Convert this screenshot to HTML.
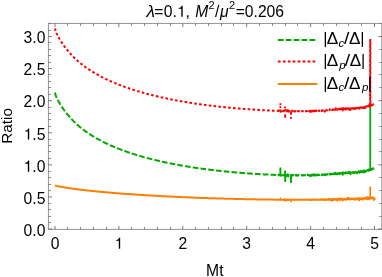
<!DOCTYPE html>
<html lang="en"><head><meta charset="utf-8"><title>plot</title>
<style>
html,body{margin:0;padding:0;background:#fff;}
svg{display:block;}
text{font-family:"Liberation Sans", sans-serif;fill:#000;}
svg{will-change:transform;}
</style></head><body>
<svg width="382" height="277" viewBox="0 0 382 277">
<title>Ratio vs Mt: λ=0.1, M²/μ²=0.206</title>
<rect width="382" height="277" fill="#fff"/>
<g fill="none" stroke-linejoin="round">
<path d="M55.00,92.59 L55.50,94.83 L56.00,96.17 L56.50,97.35 L57.00,98.43 L57.50,99.44 L58.00,100.41 L58.50,101.34 L59.00,102.23 L59.50,103.10 L60.00,103.94 L60.50,104.76 L61.00,105.55 L61.50,106.33 L62.00,107.08 L62.50,107.83 L63.00,108.55 L63.50,109.26 L64.00,109.96 L64.50,110.64 L65.00,111.31 L65.50,111.97 L66.00,112.61 L66.50,113.25 L67.00,113.87 L67.50,114.48 L68.00,115.09 L68.50,115.68 L69.00,116.26 L69.50,116.84 L70.00,117.40 L70.50,117.96 L71.00,118.50 L71.50,119.04 L72.00,119.57 L72.50,120.09 L73.00,120.61 L73.50,121.11 L74.00,121.61 L74.50,122.10 L75.00,122.59 L75.50,123.06 L76.00,123.53 L76.50,124.00 L77.00,124.45 L77.50,124.90 L78.00,125.34 L78.50,125.78 L79.00,126.20 L79.50,126.63 L80.00,127.04 L80.50,127.46 L81.00,127.86 L81.50,128.26 L82.00,128.66 L82.50,129.05 L83.00,129.43 L83.50,129.81 L84.00,130.19 L84.50,130.56 L85.00,130.92 L85.50,131.28 L86.00,131.64 L86.50,131.99 L87.00,132.34 L87.50,132.69 L88.00,133.03 L88.50,133.36 L89.00,133.70 L89.50,134.03 L90.00,134.35 L90.50,134.68 L91.00,135.00 L91.50,135.31 L92.00,135.62 L92.50,135.93 L93.00,136.24 L93.50,136.54 L94.00,136.84 L94.50,137.14 L95.00,137.43 L95.50,137.72 L96.00,138.01 L96.50,138.30 L97.00,138.58 L97.50,138.86 L98.00,139.14 L98.50,139.41 L99.00,139.69 L99.50,139.96 L100.00,140.22 L100.50,140.49 L101.00,140.75 L101.50,141.01 L102.00,141.27 L102.50,141.53 L103.00,141.78 L103.50,142.03 L104.00,142.28 L104.50,142.53 L105.00,142.77 L105.50,143.02 L106.00,143.26 L106.50,143.50 L107.00,143.73 L107.50,143.97 L108.00,144.20 L108.50,144.43 L109.00,144.66 L109.50,144.89 L110.00,145.11 L110.50,145.34 L111.00,145.56 L111.50,145.78 L112.00,146.00 L112.50,146.21 L113.00,146.43 L113.50,146.64 L114.00,146.85 L114.50,147.06 L115.00,147.27 L115.50,147.48 L116.00,147.69 L116.50,147.89 L117.00,148.09 L117.50,148.29 L118.00,148.49 L118.50,148.69 L119.00,148.89 L119.50,149.08 L120.00,149.27 L120.50,149.47 L121.00,149.66 L121.50,149.85 L122.00,150.03 L122.50,150.22 L123.00,150.41 L123.50,150.59 L124.00,150.77 L124.50,150.95 L125.00,151.13 L125.50,151.31 L126.00,151.49 L126.50,151.67 L127.00,151.84 L127.50,152.02 L128.00,152.19 L128.50,152.36 L129.00,152.53 L129.50,152.70 L130.00,152.87 L130.50,153.04 L131.00,153.20 L131.50,153.37 L132.00,153.53 L132.50,153.69 L133.00,153.85 L133.50,154.01 L134.00,154.17 L134.50,154.33 L135.00,154.49 L135.50,154.64 L136.00,154.80 L136.50,154.95 L137.00,155.11 L137.50,155.26 L138.00,155.41 L138.50,155.56 L139.00,155.71 L139.50,155.86 L140.00,156.00 L140.50,156.15 L141.00,156.30 L141.50,156.44 L142.00,156.58 L142.50,156.73 L143.00,156.87 L143.50,157.01 L144.00,157.15 L144.50,157.29 L145.00,157.42 L145.50,157.56 L146.00,157.70 L146.50,157.83 L147.00,157.97 L147.50,158.10 L148.00,158.23 L148.50,158.37 L149.00,158.50 L149.50,158.63 L150.00,158.76 L150.50,158.89 L151.00,159.01 L151.50,159.14 L152.00,159.27 L152.50,159.39 L153.00,159.52 L153.50,159.64 L154.00,159.77 L154.50,159.89 L155.00,160.01 L155.50,160.13 L156.00,160.25 L156.50,160.37 L157.00,160.49 L157.50,160.61 L158.00,160.73 L158.50,160.84 L159.00,160.96 L159.50,161.07 L160.00,161.19 L160.50,161.30 L161.00,161.41 L161.50,161.53 L162.00,161.64 L162.50,161.75 L163.00,161.86 L163.50,161.97 L164.00,162.08 L164.50,162.19 L165.00,162.30 L165.50,162.40 L166.00,162.51 L166.50,162.61 L167.00,162.72 L167.50,162.82 L168.00,162.93 L168.50,163.03 L169.00,163.13 L169.50,163.24 L170.00,163.34 L170.50,163.44 L171.00,163.54 L171.50,163.64 L172.00,163.74 L172.50,163.84 L173.00,163.93 L173.50,164.03 L174.00,164.13 L174.50,164.22 L175.00,164.32 L175.50,164.41 L176.00,164.51 L176.50,164.60 L177.00,164.69 L177.50,164.79 L178.00,164.88 L178.50,164.97 L179.00,165.06 L179.50,165.15 L180.00,165.24 L180.50,165.33 L181.00,165.42 L181.50,165.51 L182.00,165.60 L182.50,165.68 L183.00,165.77 L183.50,165.86 L184.00,165.94 L184.50,166.03 L185.00,166.11 L185.50,166.20 L186.00,166.28 L186.50,166.36 L187.00,166.44 L187.50,166.53 L188.00,166.61 L188.50,166.69 L189.00,166.77 L189.50,166.85 L190.00,166.93 L190.50,167.01 L191.00,167.09 L191.50,167.17 L192.00,167.24 L192.50,167.32 L193.00,167.40 L193.50,167.47 L194.00,167.55 L194.50,167.62 L195.00,167.70 L195.50,167.77 L196.00,167.85 L196.50,167.92 L197.00,167.99 L197.50,168.07 L198.00,168.14 L198.50,168.21 L199.00,168.28 L199.50,168.35 L200.00,168.42 L200.50,168.49 L201.00,168.56 L201.50,168.63 L202.00,168.70 L202.50,168.77 L203.00,168.83 L203.50,168.90 L204.00,168.97 L204.50,169.04 L205.00,169.10 L205.50,169.17 L206.00,169.23 L206.50,169.30 L207.00,169.36 L207.50,169.42 L208.00,169.49 L208.50,169.55 L209.00,169.61 L209.50,169.68 L210.00,169.74 L210.50,169.80 L211.00,169.86 L211.50,169.92 L212.00,169.98 L212.50,170.04 L213.00,170.10 L213.50,170.16 L214.00,170.22 L214.50,170.28 L215.00,170.34 L215.50,170.39 L216.00,170.45 L216.50,170.51 L217.00,170.56 L217.50,170.62 L218.00,170.68 L218.50,170.73 L219.00,170.79 L219.50,170.84 L220.00,170.90 L220.50,170.95 L221.00,171.00 L221.50,171.06 L222.00,171.11 L222.50,171.16 L223.00,171.21 L223.50,171.27 L224.00,171.32 L224.50,171.37 L225.00,171.42 L225.50,171.47 L226.00,171.52 L226.50,171.57 L227.00,171.62 L227.50,171.67 L228.00,171.72 L228.50,171.76 L229.00,171.81 L229.50,171.86 L230.00,171.91 L230.50,171.95 L231.00,172.00 L231.50,172.05 L232.00,172.09 L232.50,172.14 L233.00,172.18 L233.50,172.23 L234.00,172.27 L234.50,172.32 L235.00,172.36 L235.50,172.40 L236.00,172.45 L236.50,172.49 L237.00,172.53 L237.50,172.58 L238.00,172.62 L238.50,172.66 L239.00,172.70 L239.50,172.74 L240.00,172.78 L240.50,172.82 L241.00,172.86 L241.50,172.90 L242.00,172.94 L242.50,172.98 L243.00,173.02 L243.50,173.06 L244.00,173.10 L244.50,173.14 L245.00,173.17 L245.50,173.21 L246.00,173.25 L246.50,173.28 L247.00,173.32 L247.50,173.36 L248.00,173.39 L248.50,173.43 L249.00,173.46 L249.50,173.50 L250.00,173.53 L250.50,173.57 L251.00,173.60 L251.50,173.64 L252.00,173.67 L252.50,173.70 L253.00,173.74 L253.50,173.77 L254.00,173.80 L254.50,173.83 L255.00,173.87 L255.50,173.90 L256.00,173.93 L256.50,173.96 L257.00,173.99 L257.50,174.02 L258.00,174.05 L258.50,174.08 L259.00,174.11 L259.50,174.14 L260.00,174.17 L260.50,174.20 L261.00,174.23 L261.50,174.26 L262.00,174.28 L262.50,174.31 L263.00,174.34 L263.50,174.37 L264.00,174.39 L264.50,174.42 L265.00,174.45 L265.50,174.47 L266.00,174.50 L266.50,174.52 L267.00,174.55 L267.50,174.57 L268.00,174.60 L268.50,174.62 L269.00,174.64 L269.50,174.67 L270.00,174.69 L270.50,174.71 L271.00,174.74 L271.50,174.76 L272.00,174.78 L272.50,174.80 L273.00,174.82 L273.50,174.84 L274.00,174.86 L274.50,174.88 L275.00,174.90 L275.50,174.92 L276.00,174.94 L276.15,174.94 L276.30,174.95 L276.45,174.96 L276.60,174.96 L276.75,174.97 L276.90,174.97 L277.05,174.98 L277.20,174.98 L277.35,174.99 L277.50,174.99 L277.65,175.00 L277.80,175.00 L277.95,175.01 L278.10,175.00 L278.25,175.23 L278.40,175.08 L278.55,174.86 L278.70,174.62 L278.85,175.30 L279.00,175.18 L279.15,175.11 L279.30,175.09 L279.45,175.26 L279.60,175.30 L279.75,175.08 L279.90,175.36 L280.05,175.24 L280.20,175.57 L280.35,175.26 L280.50,175.05 L280.65,175.17 L280.80,175.12 L280.95,175.85 L281.10,175.23 L281.25,175.03 L281.40,175.06 L281.55,175.20 L281.70,175.07 L281.85,175.10 L282.00,175.11 L282.15,174.88 L282.30,175.21 L282.45,175.08 L282.60,174.86 L282.75,175.20 L282.90,175.35 L283.05,175.05 L283.20,175.00 L283.35,175.17 L283.50,175.17 L283.65,175.19 L283.80,175.33 L283.95,175.00 L284.10,175.49 L284.25,175.20 L284.40,175.45 L284.55,175.48 L284.70,175.09 L284.85,175.26 L285.00,175.30 L285.15,175.14 L285.30,175.45 L285.45,175.55 L285.60,175.30 L285.75,174.16 L285.90,174.78 L286.05,175.16 L286.20,176.14 L286.35,175.14 L286.50,175.46 L286.65,175.17 L286.80,175.44 L286.95,174.94 L287.10,175.54 L287.25,175.06 L287.40,175.14 L287.55,176.59 L287.70,175.31 L287.85,174.26 L288.00,175.09 L288.15,176.42 L288.30,175.35 L288.45,175.95 L288.60,175.40 L288.75,175.58 L288.90,175.13 L289.05,175.28 L289.20,175.38 L289.35,175.32 L289.50,175.25 L289.65,175.09 L289.80,175.37 L289.95,175.19 L290.10,175.39 L290.25,175.42 L290.40,175.28 L290.55,175.18 L290.70,175.34 L290.85,175.29 L291.00,175.22 L291.15,175.27 L291.30,175.24 L291.45,175.25 L291.60,175.26 L291.75,175.28 L291.90,175.26 L292.05,175.33 L292.20,174.82 L292.35,175.48 L292.50,175.40 L292.65,174.90 L292.80,175.31 L292.95,175.53 L293.10,175.32 L293.25,175.08 L293.40,175.37 L293.55,175.30 L293.70,175.35 L293.85,175.38 L294.00,175.37 L294.15,175.29 L294.30,175.60 L294.45,175.44 L294.60,175.31 L294.75,175.41 L294.90,175.71 L295.05,175.32 L295.20,175.35 L295.35,175.36 L295.50,175.34 L295.65,175.40 L295.80,175.21 L295.95,175.40 L296.10,175.38 L296.25,175.68 L296.40,175.46 L296.55,175.03 L296.70,175.35 L296.85,175.32 L297.00,175.38 L297.15,175.26 L297.30,175.35 L297.45,175.42 L297.60,175.32 L297.75,175.45 L297.90,175.32 L298.05,175.35 L298.20,175.34 L298.35,175.35 L298.50,175.40 L298.65,175.43 L298.80,175.30 L298.95,175.36 L299.10,175.34 L299.25,175.38 L299.40,175.45 L299.55,175.41 L299.70,175.05 L299.85,175.39 L300.00,175.37 L300.15,175.42 L300.30,175.37 L300.45,175.36 L300.60,175.36 L300.75,175.35 L300.90,175.37 L301.05,175.37 L301.20,175.34 L301.35,175.32 L301.50,175.35 L301.65,175.25 L301.80,175.33 L301.95,175.33 L302.10,175.37 L302.25,175.12 L302.40,175.38 L302.55,175.41 L302.70,175.38 L302.85,175.30 L303.00,175.38 L303.15,175.26 L303.30,175.32 L303.45,175.40 L303.60,175.33 L303.75,175.23 L303.90,175.36 L304.05,175.38 L304.20,175.21 L304.35,175.24 L304.50,175.26 L304.65,175.32 L304.80,175.29 L304.95,175.24 L305.10,175.05 L305.25,175.19 L305.40,175.30 L305.55,175.23 L305.70,175.31 L305.85,175.26 L306.00,175.33 L306.15,175.32 L306.30,175.26 L306.45,175.32 L306.60,175.09 L306.75,175.30 L306.90,175.26 L307.05,175.27 L307.20,175.28 L307.35,175.25 L307.50,175.20 L307.65,174.58 L307.80,175.31 L307.95,175.19 L308.10,175.25 L308.25,175.28 L308.40,175.22 L308.55,175.28 L308.70,175.23 L308.85,175.16 L309.00,175.32 L309.15,175.21 L309.30,175.19 L309.45,175.26 L309.60,175.17 L309.75,175.18 L309.90,175.24 L310.05,175.04 L310.20,176.13 L310.35,174.74 L310.50,175.24 L310.65,176.17 L310.80,175.39 L310.95,175.25 L311.10,175.02 L311.25,175.47 L311.40,175.21 L311.55,175.62 L311.70,174.85 L311.85,175.38 L312.00,174.94 L312.15,175.50 L312.30,174.89 L312.45,175.17 L312.60,175.06 L312.75,175.27 L312.90,175.52 L313.05,175.43 L313.20,174.86 L313.35,174.98 L313.50,175.28 L313.65,174.37 L313.80,175.25 L313.95,175.24 L314.10,175.33 L314.25,174.85 L314.40,174.69 L314.55,175.27 L314.70,174.87 L314.85,174.87 L315.00,174.63 L315.15,175.53 L315.30,174.98 L315.45,174.91 L315.60,175.33 L315.75,174.73 L315.90,174.99 L316.05,174.88 L316.20,175.11 L316.35,174.77 L316.50,175.07 L316.65,174.73 L316.80,174.97 L316.95,175.00 L317.10,175.36 L317.25,174.86 L317.40,174.68 L317.55,174.89 L317.70,174.98 L317.85,174.95 L318.00,174.83 L318.15,174.88 L318.30,174.97 L318.45,174.91 L318.60,174.89 L318.75,174.91 L318.90,174.94 L319.05,174.81 L319.20,174.74 L319.35,174.88 L319.50,174.95 L319.65,175.03 L319.80,174.85 L319.95,174.79 L320.10,174.85 L320.25,174.76 L320.40,174.81 L320.55,174.85 L320.70,174.97 L320.85,174.87 L321.00,174.88 L321.15,174.79 L321.30,174.75 L321.45,174.66 L321.60,174.76 L321.75,175.26 L321.90,174.51 L322.05,174.70 L322.20,174.76 L322.35,174.75 L322.50,174.89 L322.65,174.62 L322.80,174.65 L322.95,174.46 L323.10,174.52 L323.25,174.55 L323.40,174.48 L323.55,174.70 L323.70,174.72 L323.85,174.65 L324.00,174.82 L324.15,174.65 L324.30,174.67 L324.45,174.19 L324.60,174.60 L324.75,175.92 L324.90,174.58 L325.05,174.35 L325.20,174.85 L325.35,175.10 L325.50,174.54 L325.65,174.74 L325.80,174.61 L325.95,174.51 L326.10,174.72 L326.25,174.32 L326.40,174.43 L326.55,174.68 L326.70,174.47 L326.85,174.29 L327.00,174.48 L327.15,174.37 L327.30,174.33 L327.45,174.46 L327.60,174.26 L327.75,174.34 L327.90,174.55 L328.05,174.30 L328.20,174.23 L328.35,174.23 L328.50,174.46 L328.65,174.27 L328.80,174.11 L328.95,174.29 L329.10,174.12 L329.25,174.09 L329.40,174.30 L329.55,174.17 L329.70,174.32 L329.85,173.50 L330.00,174.27 L330.15,174.33 L330.30,174.23 L330.45,174.23 L330.60,174.14 L330.75,174.12 L330.90,174.38 L331.05,174.29 L331.20,174.10 L331.35,174.07 L331.50,174.13 L331.65,173.69 L331.80,173.93 L331.95,174.12 L332.10,173.98 L332.25,173.86 L332.40,174.02 L332.55,174.37 L332.70,174.04 L332.85,174.04 L333.00,173.66 L333.15,174.34 L333.30,173.74 L333.45,174.03 L333.60,173.83 L333.75,174.20 L333.90,173.93 L334.05,173.76 L334.20,173.93 L334.35,173.75 L334.50,173.93 L334.65,173.98 L334.80,173.93 L334.95,173.97 L335.10,173.96 L335.25,172.79 L335.40,174.06 L335.55,174.14 L335.70,173.83 L335.85,172.48 L336.00,173.62 L336.15,173.55 L336.30,173.56 L336.45,174.34 L336.60,173.74 L336.75,174.23 L336.90,173.84 L337.05,173.61 L337.20,173.99 L337.35,174.07 L337.50,173.92 L337.65,173.63 L337.80,173.45 L337.95,173.17 L338.10,173.37 L338.25,173.91 L338.40,174.04 L338.55,173.46 L338.70,173.39 L338.85,173.88 L339.00,173.66 L339.15,173.90 L339.30,173.49 L339.45,173.56 L339.60,173.06 L339.75,173.31 L339.90,173.48 L340.05,173.34 L340.20,173.09 L340.35,173.65 L340.50,173.64 L340.65,172.97 L340.80,173.07 L340.95,173.23 L341.10,173.19 L341.25,173.60 L341.40,172.55 L341.55,173.48 L341.70,173.22 L341.85,172.95 L342.00,172.94 L342.15,173.04 L342.30,173.09 L342.45,173.40 L342.60,173.10 L342.75,174.66 L342.90,172.34 L343.05,172.70 L343.20,173.12 L343.35,172.71 L343.50,173.19 L343.65,172.40 L343.80,173.26 L343.95,173.03 L344.10,173.20 L344.25,173.22 L344.40,173.10 L344.55,173.12 L344.70,173.45 L344.85,172.67 L345.00,173.05 L345.15,173.40 L345.30,172.84 L345.45,173.05 L345.60,172.99 L345.75,172.30 L345.90,173.18 L346.05,173.59 L346.20,173.00 L346.35,172.92 L346.50,172.75 L346.65,173.10 L346.80,173.09 L346.95,172.84 L347.10,172.98 L347.25,172.95 L347.40,172.84 L347.55,173.08 L347.70,172.54 L347.85,173.04 L348.00,172.83 L348.15,172.90 L348.30,172.96 L348.45,172.70 L348.60,172.59 L348.75,172.48 L348.90,172.65 L349.05,172.85 L349.20,171.88 L349.35,173.97 L349.50,172.72 L349.65,172.61 L349.80,172.59 L349.95,172.94 L350.10,173.00 L350.25,172.33 L350.40,172.77 L350.55,174.09 L350.70,172.90 L350.85,172.63 L351.00,172.37 L351.15,172.54 L351.30,172.35 L351.45,172.54 L351.60,172.48 L351.75,172.36 L351.90,172.64 L352.05,172.48 L352.20,172.83 L352.35,173.05 L352.50,172.37 L352.65,172.68 L352.80,172.35 L352.95,172.65 L353.10,172.50 L353.25,172.90 L353.40,172.22 L353.55,172.43 L353.70,172.42 L353.85,172.07 L354.00,173.04 L354.15,172.64 L354.30,172.98 L354.45,172.38 L354.60,172.28 L354.75,172.22 L354.90,172.29 L355.05,173.14 L355.20,171.95 L355.35,172.25 L355.50,172.37 L355.65,172.54 L355.80,172.20 L355.95,172.39 L356.10,172.37 L356.25,172.21 L356.40,172.20 L356.55,172.41 L356.70,171.95 L356.85,172.43 L357.00,173.26 L357.15,172.12 L357.30,172.14 L357.45,172.15 L357.60,172.53 L357.75,172.13 L357.90,172.25 L358.05,172.48 L358.20,171.93 L358.35,172.31 L358.50,172.12 L358.65,171.32 L358.80,172.03 L358.95,171.41 L359.10,172.32 L359.25,172.72 L359.40,171.88 L359.55,171.66 L359.70,172.18 L359.85,172.26 L360.00,171.66 L360.15,172.11 L360.30,171.93 L360.45,170.98 L360.60,172.00 L360.75,171.93 L360.90,171.32 L361.05,171.84 L361.20,171.71 L361.35,171.97 L361.50,171.85 L361.65,171.97 L361.80,172.05 L361.95,171.28 L362.10,171.55 L362.25,171.43 L362.40,171.84 L362.55,171.60 L362.70,171.62 L362.85,171.88 L363.00,171.40 L363.15,172.23 L363.30,171.52 L363.45,171.80 L363.60,170.41 L363.75,171.23 L363.90,171.29 L364.05,172.28 L364.20,171.45 L364.35,171.01 L364.50,171.34 L364.65,171.18 L364.80,171.18 L364.95,172.33 L365.10,170.80 L365.25,171.59 L365.40,171.05 L365.55,171.16 L365.70,171.42 L365.85,170.93 L366.00,170.85 L366.15,170.88 L366.30,171.10 L366.45,170.40 L366.60,170.58 L366.75,170.75 L366.90,170.36 L367.05,170.53 L367.20,170.51 L367.35,170.33 L367.50,170.78 L367.65,171.13 L367.80,170.00 L367.95,170.38 L368.10,170.11 L368.25,170.15 L368.40,170.19 L368.55,170.29 L368.70,170.37 L368.85,170.34 L369.00,170.68 L369.15,169.20 L369.30,170.24 L369.45,170.16 L369.60,169.99 L369.75,170.11 L369.90,169.99 L370.05,170.42 L370.20,169.75 L370.35,170.10 L370.50,169.69 L370.65,169.60 L370.80,170.09 L370.95,169.00 L371.10,169.49 L371.25,169.24 L371.40,169.85 L371.55,169.20 L371.70,168.79 L371.85,169.33 L372.00,169.12 L372.15,168.81 L372.30,169.14 L372.45,169.22 L372.60,168.61 L372.75,168.81 L372.90,168.86 L373.05,168.18 L373.20,168.64 L373.35,168.66 L373.50,168.49 L373.65,168.59 L373.80,168.37 L373.95,168.32" stroke="#00a800" stroke-width="2.0" stroke-dasharray="5.64 2.18"/>
<path d="M280.40,175.09 V167.49" stroke="#00a800" stroke-width="1.9"/><path d="M285.10,175.21 V170.61" stroke="#00a800" stroke-width="1.9"/><path d="M285.20,175.21 V181.91" stroke="#00a800" stroke-width="1.9"/><path d="M291.00,175.31 V182.91" stroke="#00a800" stroke-width="1.9"/><path d="M370.25,169.83 V104.23" stroke="#00a800" stroke-width="1.8"/>
<path d="M55.00,28.42 L55.50,30.66 L56.00,32.00 L56.50,33.18 L57.00,34.26 L57.50,35.27 L58.00,36.24 L58.50,37.17 L59.00,38.06 L59.50,38.93 L60.00,39.77 L60.50,40.59 L61.00,41.38 L61.50,42.16 L62.00,42.91 L62.50,43.66 L63.00,44.38 L63.50,45.09 L64.00,45.79 L64.50,46.47 L65.00,47.14 L65.50,47.80 L66.00,48.44 L66.50,49.08 L67.00,49.70 L67.50,50.31 L68.00,50.92 L68.50,51.51 L69.00,52.09 L69.50,52.67 L70.00,53.23 L70.50,53.79 L71.00,54.33 L71.50,54.87 L72.00,55.40 L72.50,55.92 L73.00,56.44 L73.50,56.94 L74.00,57.44 L74.50,57.93 L75.00,58.42 L75.50,58.89 L76.00,59.36 L76.50,59.83 L77.00,60.28 L77.50,60.73 L78.00,61.17 L78.50,61.61 L79.00,62.03 L79.50,62.46 L80.00,62.87 L80.50,63.29 L81.00,63.69 L81.50,64.09 L82.00,64.49 L82.50,64.88 L83.00,65.26 L83.50,65.64 L84.00,66.02 L84.50,66.39 L85.00,66.75 L85.50,67.11 L86.00,67.47 L86.50,67.82 L87.00,68.17 L87.50,68.52 L88.00,68.86 L88.50,69.19 L89.00,69.53 L89.50,69.86 L90.00,70.18 L90.50,70.51 L91.00,70.83 L91.50,71.14 L92.00,71.45 L92.50,71.76 L93.00,72.07 L93.50,72.37 L94.00,72.67 L94.50,72.97 L95.00,73.26 L95.50,73.55 L96.00,73.84 L96.50,74.13 L97.00,74.41 L97.50,74.69 L98.00,74.97 L98.50,75.24 L99.00,75.52 L99.50,75.79 L100.00,76.05 L100.50,76.32 L101.00,76.58 L101.50,76.84 L102.00,77.10 L102.50,77.36 L103.00,77.61 L103.50,77.86 L104.00,78.11 L104.50,78.36 L105.00,78.60 L105.50,78.85 L106.00,79.09 L106.50,79.33 L107.00,79.56 L107.50,79.80 L108.00,80.03 L108.50,80.26 L109.00,80.49 L109.50,80.72 L110.00,80.94 L110.50,81.17 L111.00,81.39 L111.50,81.61 L112.00,81.83 L112.50,82.04 L113.00,82.26 L113.50,82.47 L114.00,82.68 L114.50,82.89 L115.00,83.10 L115.50,83.31 L116.00,83.52 L116.50,83.72 L117.00,83.92 L117.50,84.12 L118.00,84.32 L118.50,84.52 L119.00,84.72 L119.50,84.91 L120.00,85.10 L120.50,85.30 L121.00,85.49 L121.50,85.68 L122.00,85.86 L122.50,86.05 L123.00,86.24 L123.50,86.42 L124.00,86.60 L124.50,86.78 L125.00,86.96 L125.50,87.14 L126.00,87.32 L126.50,87.50 L127.00,87.67 L127.50,87.85 L128.00,88.02 L128.50,88.19 L129.00,88.36 L129.50,88.53 L130.00,88.70 L130.50,88.87 L131.00,89.03 L131.50,89.20 L132.00,89.36 L132.50,89.52 L133.00,89.68 L133.50,89.84 L134.00,90.00 L134.50,90.16 L135.00,90.32 L135.50,90.47 L136.00,90.63 L136.50,90.78 L137.00,90.94 L137.50,91.09 L138.00,91.24 L138.50,91.39 L139.00,91.54 L139.50,91.69 L140.00,91.83 L140.50,91.98 L141.00,92.13 L141.50,92.27 L142.00,92.41 L142.50,92.56 L143.00,92.70 L143.50,92.84 L144.00,92.98 L144.50,93.12 L145.00,93.25 L145.50,93.39 L146.00,93.53 L146.50,93.66 L147.00,93.80 L147.50,93.93 L148.00,94.06 L148.50,94.20 L149.00,94.33 L149.50,94.46 L150.00,94.59 L150.50,94.72 L151.00,94.84 L151.50,94.97 L152.00,95.10 L152.50,95.22 L153.00,95.35 L153.50,95.47 L154.00,95.60 L154.50,95.72 L155.00,95.84 L155.50,95.96 L156.00,96.08 L156.50,96.20 L157.00,96.32 L157.50,96.44 L158.00,96.56 L158.50,96.67 L159.00,96.79 L159.50,96.90 L160.00,97.02 L160.50,97.13 L161.00,97.24 L161.50,97.36 L162.00,97.47 L162.50,97.58 L163.00,97.69 L163.50,97.80 L164.00,97.91 L164.50,98.02 L165.00,98.13 L165.50,98.23 L166.00,98.34 L166.50,98.44 L167.00,98.55 L167.50,98.65 L168.00,98.76 L168.50,98.86 L169.00,98.96 L169.50,99.07 L170.00,99.17 L170.50,99.27 L171.00,99.37 L171.50,99.47 L172.00,99.57 L172.50,99.67 L173.00,99.76 L173.50,99.86 L174.00,99.96 L174.50,100.05 L175.00,100.15 L175.50,100.24 L176.00,100.34 L176.50,100.43 L177.00,100.52 L177.50,100.62 L178.00,100.71 L178.50,100.80 L179.00,100.89 L179.50,100.98 L180.00,101.07 L180.50,101.16 L181.00,101.25 L181.50,101.34 L182.00,101.43 L182.50,101.51 L183.00,101.60 L183.50,101.69 L184.00,101.77 L184.50,101.86 L185.00,101.94 L185.50,102.03 L186.00,102.11 L186.50,102.19 L187.00,102.27 L187.50,102.36 L188.00,102.44 L188.50,102.52 L189.00,102.60 L189.50,102.68 L190.00,102.76 L190.50,102.84 L191.00,102.92 L191.50,103.00 L192.00,103.07 L192.50,103.15 L193.00,103.23 L193.50,103.30 L194.00,103.38 L194.50,103.45 L195.00,103.53 L195.50,103.60 L196.00,103.68 L196.50,103.75 L197.00,103.82 L197.50,103.90 L198.00,103.97 L198.50,104.04 L199.00,104.11 L199.50,104.18 L200.00,104.25 L200.50,104.32 L201.00,104.39 L201.50,104.46 L202.00,104.53 L202.50,104.60 L203.00,104.66 L203.50,104.73 L204.00,104.80 L204.50,104.87 L205.00,104.93 L205.50,105.00 L206.00,105.06 L206.50,105.13 L207.00,105.19 L207.50,105.25 L208.00,105.32 L208.50,105.38 L209.00,105.44 L209.50,105.51 L210.00,105.57 L210.50,105.63 L211.00,105.69 L211.50,105.75 L212.00,105.81 L212.50,105.87 L213.00,105.93 L213.50,105.99 L214.00,106.05 L214.50,106.11 L215.00,106.17 L215.50,106.22 L216.00,106.28 L216.50,106.34 L217.00,106.39 L217.50,106.45 L218.00,106.51 L218.50,106.56 L219.00,106.62 L219.50,106.67 L220.00,106.73 L220.50,106.78 L221.00,106.83 L221.50,106.89 L222.00,106.94 L222.50,106.99 L223.00,107.04 L223.50,107.10 L224.00,107.15 L224.50,107.20 L225.00,107.25 L225.50,107.30 L226.00,107.35 L226.50,107.40 L227.00,107.45 L227.50,107.50 L228.00,107.55 L228.50,107.59 L229.00,107.64 L229.50,107.69 L230.00,107.74 L230.50,107.78 L231.00,107.83 L231.50,107.88 L232.00,107.92 L232.50,107.97 L233.00,108.01 L233.50,108.06 L234.00,108.10 L234.50,108.15 L235.00,108.19 L235.50,108.23 L236.00,108.28 L236.50,108.32 L237.00,108.36 L237.50,108.41 L238.00,108.45 L238.50,108.49 L239.00,108.53 L239.50,108.57 L240.00,108.61 L240.50,108.65 L241.00,108.69 L241.50,108.73 L242.00,108.77 L242.50,108.81 L243.00,108.85 L243.50,108.89 L244.00,108.93 L244.50,108.97 L245.00,109.00 L245.50,109.04 L246.00,109.08 L246.50,109.11 L247.00,109.15 L247.50,109.19 L248.00,109.22 L248.50,109.26 L249.00,109.29 L249.50,109.33 L250.00,109.36 L250.50,109.40 L251.00,109.43 L251.50,109.47 L252.00,109.50 L252.50,109.53 L253.00,109.57 L253.50,109.60 L254.00,109.63 L254.50,109.66 L255.00,109.70 L255.50,109.73 L256.00,109.76 L256.50,109.79 L257.00,109.82 L257.50,109.85 L258.00,109.88 L258.50,109.91 L259.00,109.94 L259.50,109.97 L260.00,110.00 L260.50,110.03 L261.00,110.06 L261.50,110.09 L262.00,110.11 L262.50,110.14 L263.00,110.17 L263.50,110.20 L264.00,110.22 L264.50,110.25 L265.00,110.28 L265.50,110.30 L266.00,110.33 L266.50,110.35 L267.00,110.38 L267.50,110.40 L268.00,110.43 L268.50,110.45 L269.00,110.47 L269.50,110.50 L270.00,110.52 L270.50,110.54 L271.00,110.57 L271.50,110.59 L272.00,110.61 L272.50,110.63 L273.00,110.65 L273.50,110.67 L274.00,110.69 L274.50,110.71 L275.00,110.73 L275.50,110.75 L276.00,110.77 L276.15,110.77 L276.30,110.78 L276.45,110.79 L276.60,110.79 L276.75,110.80 L276.90,110.80 L277.05,110.81 L277.20,110.81 L277.35,110.82 L277.50,110.82 L277.65,110.83 L277.80,110.83 L277.95,110.84 L278.10,110.83 L278.25,111.06 L278.40,110.91 L278.55,110.69 L278.70,110.45 L278.85,111.13 L279.00,111.01 L279.15,110.94 L279.30,110.92 L279.45,111.09 L279.60,111.13 L279.75,110.91 L279.90,111.19 L280.05,111.07 L280.20,111.40 L280.35,111.09 L280.50,110.88 L280.65,111.00 L280.80,110.95 L280.95,111.68 L281.10,111.06 L281.25,110.86 L281.40,110.89 L281.55,111.03 L281.70,110.90 L281.85,110.93 L282.00,110.94 L282.15,110.71 L282.30,111.04 L282.45,110.91 L282.60,110.69 L282.75,111.03 L282.90,111.18 L283.05,110.88 L283.20,110.83 L283.35,111.00 L283.50,111.00 L283.65,111.02 L283.80,111.16 L283.95,110.83 L284.10,111.32 L284.25,111.03 L284.40,111.28 L284.55,111.31 L284.70,110.92 L284.85,111.09 L285.00,111.13 L285.15,110.97 L285.30,111.28 L285.45,111.38 L285.60,111.13 L285.75,109.99 L285.90,110.61 L286.05,110.99 L286.20,111.97 L286.35,110.97 L286.50,111.29 L286.65,111.00 L286.80,111.27 L286.95,110.77 L287.10,111.37 L287.25,110.89 L287.40,110.97 L287.55,112.42 L287.70,111.14 L287.85,110.09 L288.00,110.92 L288.15,112.25 L288.30,111.18 L288.45,111.78 L288.60,111.23 L288.75,111.41 L288.90,110.96 L289.05,111.11 L289.20,111.21 L289.35,111.15 L289.50,111.08 L289.65,110.92 L289.80,111.20 L289.95,111.02 L290.10,111.22 L290.25,111.25 L290.40,111.11 L290.55,111.01 L290.70,111.17 L290.85,111.12 L291.00,111.05 L291.15,111.10 L291.30,111.07 L291.45,111.08 L291.60,111.09 L291.75,111.11 L291.90,111.09 L292.05,111.16 L292.20,110.65 L292.35,111.31 L292.50,111.23 L292.65,110.73 L292.80,111.14 L292.95,111.36 L293.10,111.15 L293.25,110.91 L293.40,111.20 L293.55,111.13 L293.70,111.18 L293.85,111.21 L294.00,111.20 L294.15,111.12 L294.30,111.43 L294.45,111.27 L294.60,111.14 L294.75,111.24 L294.90,111.54 L295.05,111.15 L295.20,111.18 L295.35,111.19 L295.50,111.17 L295.65,111.23 L295.80,111.04 L295.95,111.23 L296.10,111.21 L296.25,111.51 L296.40,111.29 L296.55,110.86 L296.70,111.18 L296.85,111.15 L297.00,111.21 L297.15,111.09 L297.30,111.18 L297.45,111.25 L297.60,111.15 L297.75,111.28 L297.90,111.15 L298.05,111.18 L298.20,111.17 L298.35,111.18 L298.50,111.23 L298.65,111.26 L298.80,111.13 L298.95,111.19 L299.10,111.17 L299.25,111.21 L299.40,111.28 L299.55,111.24 L299.70,110.88 L299.85,111.22 L300.00,111.20 L300.15,111.25 L300.30,111.20 L300.45,111.19 L300.60,111.19 L300.75,111.18 L300.90,111.20 L301.05,111.20 L301.20,111.17 L301.35,111.15 L301.50,111.18 L301.65,111.08 L301.80,111.16 L301.95,111.16 L302.10,111.20 L302.25,110.95 L302.40,111.21 L302.55,111.24 L302.70,111.21 L302.85,111.13 L303.00,111.21 L303.15,111.09 L303.30,111.15 L303.45,111.23 L303.60,111.16 L303.75,111.06 L303.90,111.19 L304.05,111.21 L304.20,111.04 L304.35,111.07 L304.50,111.09 L304.65,111.15 L304.80,111.12 L304.95,111.07 L305.10,110.88 L305.25,111.02 L305.40,111.13 L305.55,111.06 L305.70,111.14 L305.85,111.09 L306.00,111.16 L306.15,111.15 L306.30,111.09 L306.45,111.15 L306.60,110.92 L306.75,111.13 L306.90,111.09 L307.05,111.10 L307.20,111.11 L307.35,111.08 L307.50,111.03 L307.65,110.41 L307.80,111.14 L307.95,111.02 L308.10,111.08 L308.25,111.11 L308.40,111.05 L308.55,111.11 L308.70,111.06 L308.85,110.99 L309.00,111.15 L309.15,111.04 L309.30,111.02 L309.45,111.09 L309.60,111.00 L309.75,111.01 L309.90,111.07 L310.05,110.87 L310.20,111.96 L310.35,110.57 L310.50,111.07 L310.65,112.00 L310.80,111.22 L310.95,111.08 L311.10,110.85 L311.25,111.30 L311.40,111.04 L311.55,111.45 L311.70,110.68 L311.85,111.21 L312.00,110.77 L312.15,111.33 L312.30,110.72 L312.45,111.00 L312.60,110.89 L312.75,111.10 L312.90,111.35 L313.05,111.26 L313.20,110.69 L313.35,110.81 L313.50,111.11 L313.65,110.20 L313.80,111.08 L313.95,111.07 L314.10,111.16 L314.25,110.68 L314.40,110.52 L314.55,111.10 L314.70,110.70 L314.85,110.70 L315.00,110.46 L315.15,111.36 L315.30,110.81 L315.45,110.74 L315.60,111.16 L315.75,110.56 L315.90,110.82 L316.05,110.71 L316.20,110.94 L316.35,110.60 L316.50,110.90 L316.65,110.56 L316.80,110.80 L316.95,110.83 L317.10,111.19 L317.25,110.69 L317.40,110.51 L317.55,110.72 L317.70,110.81 L317.85,110.78 L318.00,110.66 L318.15,110.71 L318.30,110.80 L318.45,110.74 L318.60,110.72 L318.75,110.74 L318.90,110.77 L319.05,110.64 L319.20,110.57 L319.35,110.71 L319.50,110.78 L319.65,110.86 L319.80,110.68 L319.95,110.62 L320.10,110.68 L320.25,110.59 L320.40,110.64 L320.55,110.68 L320.70,110.80 L320.85,110.70 L321.00,110.71 L321.15,110.62 L321.30,110.58 L321.45,110.49 L321.60,110.59 L321.75,111.09 L321.90,110.34 L322.05,110.53 L322.20,110.59 L322.35,110.58 L322.50,110.72 L322.65,110.45 L322.80,110.48 L322.95,110.29 L323.10,110.35 L323.25,110.38 L323.40,110.31 L323.55,110.53 L323.70,110.55 L323.85,110.48 L324.00,110.65 L324.15,110.48 L324.30,110.50 L324.45,110.02 L324.60,110.43 L324.75,111.75 L324.90,110.41 L325.05,110.18 L325.20,110.68 L325.35,110.93 L325.50,110.37 L325.65,110.57 L325.80,110.44 L325.95,110.34 L326.10,110.55 L326.25,110.15 L326.40,110.26 L326.55,110.51 L326.70,110.30 L326.85,110.12 L327.00,110.31 L327.15,110.20 L327.30,110.16 L327.45,110.29 L327.60,110.09 L327.75,110.17 L327.90,110.38 L328.05,110.13 L328.20,110.06 L328.35,110.06 L328.50,110.29 L328.65,110.10 L328.80,109.94 L328.95,110.12 L329.10,109.95 L329.25,109.92 L329.40,110.13 L329.55,110.00 L329.70,110.15 L329.85,109.33 L330.00,110.10 L330.15,110.16 L330.30,110.06 L330.45,110.06 L330.60,109.97 L330.75,109.95 L330.90,110.21 L331.05,110.12 L331.20,109.93 L331.35,109.90 L331.50,109.96 L331.65,109.52 L331.80,109.76 L331.95,109.95 L332.10,109.81 L332.25,109.69 L332.40,109.85 L332.55,110.20 L332.70,109.87 L332.85,109.87 L333.00,109.49 L333.15,110.17 L333.30,109.57 L333.45,109.86 L333.60,109.66 L333.75,110.03 L333.90,109.76 L334.05,109.59 L334.20,109.76 L334.35,109.58 L334.50,109.76 L334.65,109.81 L334.80,109.76 L334.95,109.80 L335.10,109.79 L335.25,108.62 L335.40,109.89 L335.55,109.97 L335.70,109.66 L335.85,108.31 L336.00,109.45 L336.15,109.38 L336.30,109.39 L336.45,110.17 L336.60,109.57 L336.75,110.06 L336.90,109.67 L337.05,109.44 L337.20,109.82 L337.35,109.90 L337.50,109.75 L337.65,109.46 L337.80,109.28 L337.95,109.00 L338.10,109.20 L338.25,109.74 L338.40,109.87 L338.55,109.29 L338.70,109.22 L338.85,109.71 L339.00,109.49 L339.15,109.73 L339.30,109.32 L339.45,109.39 L339.60,108.89 L339.75,109.14 L339.90,109.31 L340.05,109.17 L340.20,108.92 L340.35,109.48 L340.50,109.47 L340.65,108.80 L340.80,108.90 L340.95,109.06 L341.10,109.02 L341.25,109.43 L341.40,108.38 L341.55,109.31 L341.70,109.05 L341.85,108.78 L342.00,108.77 L342.15,108.87 L342.30,108.92 L342.45,109.23 L342.60,108.93 L342.75,110.49 L342.90,108.17 L343.05,108.53 L343.20,108.95 L343.35,108.54 L343.50,109.02 L343.65,108.23 L343.80,109.09 L343.95,108.86 L344.10,109.03 L344.25,109.05 L344.40,108.93 L344.55,108.95 L344.70,109.28 L344.85,108.50 L345.00,108.88 L345.15,109.23 L345.30,108.67 L345.45,108.88 L345.60,108.82 L345.75,108.13 L345.90,109.01 L346.05,109.42 L346.20,108.83 L346.35,108.75 L346.50,108.58 L346.65,108.93 L346.80,108.92 L346.95,108.67 L347.10,108.81 L347.25,108.78 L347.40,108.67 L347.55,108.91 L347.70,108.37 L347.85,108.87 L348.00,108.66 L348.15,108.73 L348.30,108.79 L348.45,108.53 L348.60,108.42 L348.75,108.31 L348.90,108.48 L349.05,108.68 L349.20,107.71 L349.35,109.80 L349.50,108.55 L349.65,108.44 L349.80,108.42 L349.95,108.77 L350.10,108.83 L350.25,108.16 L350.40,108.60 L350.55,109.92 L350.70,108.73 L350.85,108.46 L351.00,108.20 L351.15,108.37 L351.30,108.18 L351.45,108.37 L351.60,108.31 L351.75,108.19 L351.90,108.47 L352.05,108.31 L352.20,108.66 L352.35,108.88 L352.50,108.20 L352.65,108.51 L352.80,108.18 L352.95,108.48 L353.10,108.33 L353.25,108.73 L353.40,108.05 L353.55,108.26 L353.70,108.25 L353.85,107.90 L354.00,108.87 L354.15,108.47 L354.30,108.81 L354.45,108.21 L354.60,108.11 L354.75,108.05 L354.90,108.12 L355.05,108.97 L355.20,107.78 L355.35,108.08 L355.50,108.20 L355.65,108.37 L355.80,108.03 L355.95,108.22 L356.10,108.20 L356.25,108.04 L356.40,108.03 L356.55,108.24 L356.70,107.78 L356.85,108.26 L357.00,109.09 L357.15,107.95 L357.30,107.97 L357.45,107.98 L357.60,108.36 L357.75,107.96 L357.90,108.08 L358.05,108.31 L358.20,107.76 L358.35,108.14 L358.50,107.95 L358.65,107.15 L358.80,107.86 L358.95,107.24 L359.10,108.15 L359.25,108.55 L359.40,107.71 L359.55,107.49 L359.70,108.01 L359.85,108.09 L360.00,107.49 L360.15,107.94 L360.30,107.76 L360.45,106.81 L360.60,107.83 L360.75,107.76 L360.90,107.15 L361.05,107.67 L361.20,107.54 L361.35,107.80 L361.50,107.68 L361.65,107.80 L361.80,107.88 L361.95,107.11 L362.10,107.38 L362.25,107.26 L362.40,107.67 L362.55,107.43 L362.70,107.45 L362.85,107.71 L363.00,107.23 L363.15,108.06 L363.30,107.35 L363.45,107.63 L363.60,106.24 L363.75,107.06 L363.90,107.12 L364.05,108.11 L364.20,107.28 L364.35,106.84 L364.50,107.17 L364.65,107.01 L364.80,107.01 L364.95,108.16 L365.10,106.63 L365.25,107.42 L365.40,106.88 L365.55,106.99 L365.70,107.25 L365.85,106.76 L366.00,106.68 L366.15,106.71 L366.30,106.93 L366.45,106.23 L366.60,106.41 L366.75,106.58 L366.90,106.19 L367.05,106.36 L367.20,106.34 L367.35,106.16 L367.50,106.61 L367.65,106.96 L367.80,105.83 L367.95,106.21 L368.10,105.94 L368.25,105.98 L368.40,106.02 L368.55,106.12 L368.70,106.20 L368.85,106.17 L369.00,106.51 L369.15,105.03 L369.30,106.07 L369.45,105.99 L369.60,105.82 L369.75,105.94 L369.90,105.82 L370.05,106.25 L370.20,105.58 L370.35,105.93 L370.50,105.52 L370.65,105.43 L370.80,105.92 L370.95,104.83 L371.10,105.32 L371.25,105.07 L371.40,105.68 L371.55,105.03 L371.70,104.62 L371.85,105.16 L372.00,104.95 L372.15,104.64 L372.30,104.97 L372.45,105.05 L372.60,104.44 L372.75,104.64 L372.90,104.69 L373.05,104.01 L373.20,104.47 L373.35,104.49 L373.50,104.32 L373.65,104.42 L373.80,104.20 L373.95,104.15" stroke="#ff0000" stroke-width="2.0" stroke-dasharray="2.66 2.22" stroke-dashoffset="0.2"/>
<path d="M280.40,110.92 V103.32" stroke="#ff0000" stroke-width="1.9" stroke-dasharray="1.7 1.35" stroke-dashoffset="0.2"/><path d="M285.10,111.04 V106.44" stroke="#ff0000" stroke-width="1.9" stroke-dasharray="1.7 1.35" stroke-dashoffset="0.2"/><path d="M285.20,114.34 V117.74" stroke="#ff0000" stroke-width="1.9" stroke-dasharray="3.4 9" stroke-dashoffset="0"/><path d="M291.00,111.14 V118.74" stroke="#ff0000" stroke-width="1.9" stroke-dasharray="3.7 2.1" stroke-dashoffset="0"/><path d="M370.10,105.66 L370.15,39.06" stroke="#ff0000" stroke-width="1.85" stroke-dasharray="2.9 1.95"/><path d="M370.35,105.66 L370.40,39.06" stroke="#ff0000" stroke-width="1.85" stroke-dasharray="2.9 1.95" stroke-dashoffset="2.4"/>
<path d="M55.00,185.36 L55.50,185.59 L56.00,185.73 L56.50,185.86 L57.00,185.97 L57.50,186.09 L58.00,186.19 L58.50,186.30 L59.00,186.40 L59.50,186.49 L60.00,186.59 L60.50,186.68 L61.00,186.78 L61.50,186.87 L62.00,186.96 L62.50,187.05 L63.00,187.13 L63.50,187.22 L64.00,187.31 L64.50,187.39 L65.00,187.47 L65.50,187.55 L66.00,187.64 L66.50,187.72 L67.00,187.80 L67.50,187.87 L68.00,187.95 L68.50,188.03 L69.00,188.11 L69.50,188.18 L70.00,188.26 L70.50,188.33 L71.00,188.41 L71.50,188.48 L72.00,188.55 L72.50,188.62 L73.00,188.69 L73.50,188.76 L74.00,188.83 L74.50,188.90 L75.00,188.97 L75.50,189.04 L76.00,189.10 L76.50,189.17 L77.00,189.24 L77.50,189.30 L78.00,189.37 L78.50,189.43 L79.00,189.49 L79.50,189.56 L80.00,189.62 L80.50,189.68 L81.00,189.74 L81.50,189.80 L82.00,189.86 L82.50,189.92 L83.00,189.98 L83.50,190.04 L84.00,190.09 L84.50,190.15 L85.00,190.21 L85.50,190.27 L86.00,190.32 L86.50,190.38 L87.00,190.43 L87.50,190.49 L88.00,190.54 L88.50,190.60 L89.00,190.65 L89.50,190.70 L90.00,190.76 L90.50,190.81 L91.00,190.86 L91.50,190.92 L92.00,190.97 L92.50,191.02 L93.00,191.07 L93.50,191.12 L94.00,191.17 L94.50,191.22 L95.00,191.27 L95.50,191.32 L96.00,191.37 L96.50,191.42 L97.00,191.47 L97.50,191.52 L98.00,191.56 L98.50,191.61 L99.00,191.66 L99.50,191.71 L100.00,191.75 L100.50,191.80 L101.00,191.85 L101.50,191.89 L102.00,191.94 L102.50,191.98 L103.00,192.03 L103.50,192.08 L104.00,192.12 L104.50,192.16 L105.00,192.21 L105.50,192.25 L106.00,192.30 L106.50,192.34 L107.00,192.39 L107.50,192.43 L108.00,192.47 L108.50,192.51 L109.00,192.56 L109.50,192.60 L110.00,192.64 L110.50,192.68 L111.00,192.73 L111.50,192.77 L112.00,192.81 L112.50,192.85 L113.00,192.89 L113.50,192.93 L114.00,192.97 L114.50,193.01 L115.00,193.05 L115.50,193.09 L116.00,193.13 L116.50,193.17 L117.00,193.21 L117.50,193.25 L118.00,193.29 L118.50,193.33 L119.00,193.37 L119.50,193.41 L120.00,193.45 L120.50,193.48 L121.00,193.52 L121.50,193.56 L122.00,193.60 L122.50,193.64 L123.00,193.67 L123.50,193.71 L124.00,193.75 L124.50,193.78 L125.00,193.82 L125.50,193.86 L126.00,193.89 L126.50,193.93 L127.00,193.97 L127.50,194.00 L128.00,194.04 L128.50,194.07 L129.00,194.11 L129.50,194.14 L130.00,194.18 L130.50,194.21 L131.00,194.25 L131.50,194.28 L132.00,194.32 L132.50,194.35 L133.00,194.39 L133.50,194.42 L134.00,194.46 L134.50,194.49 L135.00,194.52 L135.50,194.56 L136.00,194.59 L136.50,194.62 L137.00,194.66 L137.50,194.69 L138.00,194.72 L138.50,194.75 L139.00,194.79 L139.50,194.82 L140.00,194.85 L140.50,194.88 L141.00,194.91 L141.50,194.95 L142.00,194.98 L142.50,195.01 L143.00,195.04 L143.50,195.07 L144.00,195.10 L144.50,195.13 L145.00,195.16 L145.50,195.20 L146.00,195.23 L146.50,195.26 L147.00,195.29 L147.50,195.32 L148.00,195.35 L148.50,195.38 L149.00,195.41 L149.50,195.44 L150.00,195.47 L150.50,195.50 L151.00,195.52 L151.50,195.55 L152.00,195.58 L152.50,195.61 L153.00,195.64 L153.50,195.67 L154.00,195.70 L154.50,195.73 L155.00,195.75 L155.50,195.78 L156.00,195.81 L156.50,195.84 L157.00,195.87 L157.50,195.89 L158.00,195.92 L158.50,195.95 L159.00,195.98 L159.50,196.00 L160.00,196.03 L160.50,196.06 L161.00,196.08 L161.50,196.11 L162.00,196.14 L162.50,196.16 L163.00,196.19 L163.50,196.22 L164.00,196.24 L164.50,196.27 L165.00,196.29 L165.50,196.32 L166.00,196.35 L166.50,196.37 L167.00,196.40 L167.50,196.42 L168.00,196.45 L168.50,196.47 L169.00,196.50 L169.50,196.52 L170.00,196.55 L170.50,196.57 L171.00,196.60 L171.50,196.62 L172.00,196.64 L172.50,196.67 L173.00,196.69 L173.50,196.72 L174.00,196.74 L174.50,196.76 L175.00,196.79 L175.50,196.81 L176.00,196.83 L176.50,196.86 L177.00,196.88 L177.50,196.90 L178.00,196.93 L178.50,196.95 L179.00,196.97 L179.50,197.00 L180.00,197.02 L180.50,197.04 L181.00,197.06 L181.50,197.09 L182.00,197.11 L182.50,197.13 L183.00,197.15 L183.50,197.17 L184.00,197.20 L184.50,197.22 L185.00,197.24 L185.50,197.26 L186.00,197.28 L186.50,197.30 L187.00,197.32 L187.50,197.34 L188.00,197.37 L188.50,197.39 L189.00,197.41 L189.50,197.43 L190.00,197.45 L190.50,197.47 L191.00,197.49 L191.50,197.51 L192.00,197.53 L192.50,197.55 L193.00,197.57 L193.50,197.59 L194.00,197.61 L194.50,197.63 L195.00,197.65 L195.50,197.67 L196.00,197.69 L196.50,197.71 L197.00,197.73 L197.50,197.74 L198.00,197.76 L198.50,197.78 L199.00,197.80 L199.50,197.82 L200.00,197.84 L200.50,197.86 L201.00,197.88 L201.50,197.89 L202.00,197.91 L202.50,197.93 L203.00,197.95 L203.50,197.97 L204.00,197.98 L204.50,198.00 L205.00,198.02 L205.50,198.04 L206.00,198.05 L206.50,198.07 L207.00,198.09 L207.50,198.11 L208.00,198.12 L208.50,198.14 L209.00,198.16 L209.50,198.17 L210.00,198.19 L210.50,198.21 L211.00,198.22 L211.50,198.24 L212.00,198.26 L212.50,198.27 L213.00,198.29 L213.50,198.31 L214.00,198.32 L214.50,198.34 L215.00,198.35 L215.50,198.37 L216.00,198.38 L216.50,198.40 L217.00,198.42 L217.50,198.43 L218.00,198.45 L218.50,198.46 L219.00,198.48 L219.50,198.49 L220.00,198.51 L220.50,198.52 L221.00,198.54 L221.50,198.55 L222.00,198.57 L222.50,198.58 L223.00,198.59 L223.50,198.61 L224.00,198.62 L224.50,198.64 L225.00,198.65 L225.50,198.67 L226.00,198.68 L226.50,198.69 L227.00,198.71 L227.50,198.72 L228.00,198.73 L228.50,198.75 L229.00,198.76 L229.50,198.77 L230.00,198.79 L230.50,198.80 L231.00,198.81 L231.50,198.83 L232.00,198.84 L232.50,198.85 L233.00,198.86 L233.50,198.88 L234.00,198.89 L234.50,198.90 L235.00,198.91 L235.50,198.93 L236.00,198.94 L236.50,198.95 L237.00,198.96 L237.50,198.98 L238.00,198.99 L238.50,199.00 L239.00,199.01 L239.50,199.02 L240.00,199.03 L240.50,199.05 L241.00,199.06 L241.50,199.07 L242.00,199.08 L242.50,199.09 L243.00,199.10 L243.50,199.11 L244.00,199.12 L244.50,199.13 L245.00,199.15 L245.50,199.16 L246.00,199.17 L246.50,199.18 L247.00,199.19 L247.50,199.20 L248.00,199.21 L248.50,199.22 L249.00,199.23 L249.50,199.24 L250.00,199.25 L250.50,199.26 L251.00,199.27 L251.50,199.28 L252.00,199.29 L252.50,199.30 L253.00,199.31 L253.50,199.32 L254.00,199.33 L254.50,199.34 L255.00,199.34 L255.50,199.35 L256.00,199.36 L256.50,199.37 L257.00,199.38 L257.50,199.39 L258.00,199.40 L258.50,199.41 L259.00,199.42 L259.50,199.42 L260.00,199.43 L260.50,199.44 L261.00,199.45 L261.50,199.46 L262.00,199.47 L262.50,199.47 L263.00,199.48 L263.50,199.49 L264.00,199.50 L264.50,199.51 L265.00,199.51 L265.50,199.52 L266.00,199.53 L266.50,199.54 L267.00,199.54 L267.50,199.55 L268.00,199.56 L268.50,199.56 L269.00,199.57 L269.50,199.58 L270.00,199.59 L270.50,199.59 L271.00,199.60 L271.50,199.60 L272.00,199.61 L272.50,199.62 L273.00,199.62 L273.50,199.63 L274.00,199.64 L274.50,199.64 L275.00,199.65 L275.50,199.65 L276.00,199.66 L276.15,199.66 L276.30,199.66 L276.45,199.66 L276.60,199.66 L276.75,199.67 L276.90,199.67 L277.05,199.67 L277.20,199.67 L277.35,199.67 L277.50,199.67 L277.65,199.68 L277.80,199.68 L277.95,199.68 L278.10,199.68 L278.25,199.74 L278.40,199.70 L278.55,199.63 L278.70,199.56 L278.85,199.76 L279.00,199.73 L279.15,199.71 L279.30,199.70 L279.45,199.75 L279.60,199.77 L279.75,199.70 L279.90,199.78 L280.05,199.75 L280.20,199.84 L280.35,199.75 L280.50,199.69 L280.65,199.73 L280.80,199.71 L280.95,199.93 L281.10,199.75 L281.25,199.69 L281.40,199.69 L281.55,199.74 L281.70,199.70 L281.85,199.71 L282.00,199.71 L282.15,199.64 L282.30,199.74 L282.45,199.70 L282.60,199.64 L282.75,199.73 L282.90,199.78 L283.05,199.69 L283.20,199.68 L283.35,199.73 L283.50,199.73 L283.65,199.73 L283.80,199.78 L283.95,199.68 L284.10,199.82 L284.25,199.74 L284.40,199.81 L284.55,199.82 L284.70,199.70 L284.85,199.75 L285.00,199.76 L285.15,199.72 L285.30,199.81 L285.45,199.84 L285.60,199.76 L285.75,199.43 L285.90,199.61 L286.05,199.72 L286.20,200.01 L286.35,199.72 L286.50,199.81 L286.65,199.73 L286.80,199.81 L286.95,199.66 L287.10,199.84 L287.25,199.69 L287.40,199.72 L287.55,200.15 L287.70,199.77 L287.85,199.46 L288.00,199.70 L288.15,200.10 L288.30,199.78 L288.45,199.96 L288.60,199.79 L288.75,199.85 L288.90,199.72 L289.05,199.76 L289.20,199.79 L289.35,199.77 L289.50,199.75 L289.65,199.70 L289.80,199.79 L289.95,199.73 L290.10,199.79 L290.25,199.80 L290.40,199.76 L290.55,199.73 L290.70,199.78 L290.85,199.76 L291.00,199.74 L291.15,199.76 L291.30,199.75 L291.45,199.75 L291.60,199.75 L291.75,199.76 L291.90,199.75 L292.05,199.77 L292.20,199.62 L292.35,199.82 L292.50,199.80 L292.65,199.65 L292.80,199.77 L292.95,199.83 L293.10,199.77 L293.25,199.70 L293.40,199.79 L293.55,199.77 L293.70,199.78 L293.85,199.79 L294.00,199.79 L294.15,199.76 L294.30,199.86 L294.45,199.81 L294.60,199.77 L294.75,199.80 L294.90,199.89 L295.05,199.77 L295.20,199.78 L295.35,199.78 L295.50,199.78 L295.65,199.79 L295.80,199.74 L295.95,199.80 L296.10,199.79 L296.25,199.88 L296.40,199.81 L296.55,199.68 L296.70,199.78 L296.85,199.77 L297.00,199.79 L297.15,199.75 L297.30,199.78 L297.45,199.80 L297.60,199.77 L297.75,199.81 L297.90,199.77 L298.05,199.78 L298.20,199.78 L298.35,199.78 L298.50,199.79 L298.65,199.80 L298.80,199.77 L298.95,199.78 L299.10,199.78 L299.25,199.79 L299.40,199.81 L299.55,199.80 L299.70,199.69 L299.85,199.79 L300.00,199.79 L300.15,199.80 L300.30,199.79 L300.45,199.78 L300.60,199.78 L300.75,199.78 L300.90,199.79 L301.05,199.79 L301.20,199.78 L301.35,199.77 L301.50,199.78 L301.65,199.75 L301.80,199.77 L301.95,199.77 L302.10,199.78 L302.25,199.71 L302.40,199.79 L302.55,199.80 L302.70,199.79 L302.85,199.76 L303.00,199.79 L303.15,199.75 L303.30,199.77 L303.45,199.79 L303.60,199.77 L303.75,199.74 L303.90,199.78 L304.05,199.79 L304.20,199.74 L304.35,199.75 L304.50,199.75 L304.65,199.77 L304.80,199.76 L304.95,199.75 L305.10,199.69 L305.25,199.73 L305.40,199.76 L305.55,199.74 L305.70,199.77 L305.85,199.75 L306.00,199.77 L306.15,199.77 L306.30,199.75 L306.45,199.77 L306.60,199.70 L306.75,199.76 L306.90,199.75 L307.05,199.76 L307.20,199.76 L307.35,199.75 L307.50,199.74 L307.65,199.55 L307.80,199.77 L307.95,199.73 L308.10,199.75 L308.25,199.76 L308.40,199.74 L308.55,199.76 L308.70,199.75 L308.85,199.72 L309.00,199.77 L309.15,199.74 L309.30,199.73 L309.45,199.75 L309.60,199.73 L309.75,199.73 L309.90,199.75 L310.05,199.69 L310.20,200.01 L310.35,199.60 L310.50,199.75 L310.65,200.02 L310.80,199.79 L310.95,199.75 L311.10,199.68 L311.25,199.82 L311.40,199.74 L311.55,199.86 L311.70,199.63 L311.85,199.79 L312.00,199.66 L312.15,199.82 L312.30,199.64 L312.45,199.73 L312.60,199.69 L312.75,199.76 L312.90,199.83 L313.05,199.80 L313.20,199.63 L313.35,199.67 L313.50,199.76 L313.65,199.49 L313.80,199.75 L313.95,199.75 L314.10,199.77 L314.25,199.63 L314.40,199.58 L314.55,199.75 L314.70,199.64 L314.85,199.64 L315.00,199.57 L315.15,199.83 L315.30,199.67 L315.45,199.65 L315.60,199.77 L315.75,199.60 L315.90,199.67 L316.05,199.64 L316.20,199.71 L316.35,199.61 L316.50,199.70 L316.65,199.60 L316.80,199.67 L316.95,199.68 L317.10,199.78 L317.25,199.64 L317.40,199.58 L317.55,199.64 L317.70,199.67 L317.85,199.66 L318.00,199.63 L318.15,199.64 L318.30,199.67 L318.45,199.65 L318.60,199.64 L318.75,199.65 L318.90,199.66 L319.05,199.62 L319.20,199.60 L319.35,199.64 L319.50,199.66 L319.65,199.68 L319.80,199.63 L319.95,199.61 L320.10,199.64 L320.25,199.59 L320.40,199.75 L320.55,199.63 L320.70,199.72 L320.85,199.63 L321.00,199.66 L321.15,199.67 L321.30,199.62 L321.45,199.57 L321.60,199.75 L321.75,199.48 L321.90,199.57 L322.05,199.28 L322.20,199.55 L322.35,199.64 L322.50,199.53 L322.65,199.67 L322.80,199.53 L322.95,199.51 L323.10,199.46 L323.25,199.68 L323.40,199.63 L323.55,199.66 L323.70,199.59 L323.85,199.56 L324.00,199.60 L324.15,199.68 L324.30,199.89 L324.45,200.05 L324.60,199.60 L324.75,199.90 L324.90,199.46 L325.05,199.53 L325.20,199.53 L325.35,199.83 L325.50,199.18 L325.65,200.09 L325.80,199.54 L325.95,199.62 L326.10,199.68 L326.25,199.72 L326.40,199.38 L326.55,199.64 L326.70,199.46 L326.85,199.45 L327.00,199.49 L327.15,199.46 L327.30,199.42 L327.45,199.63 L327.60,199.45 L327.75,199.45 L327.90,199.82 L328.05,199.44 L328.20,199.55 L328.35,199.10 L328.50,199.85 L328.65,199.49 L328.80,199.03 L328.95,199.36 L329.10,199.47 L329.25,199.47 L329.40,199.37 L329.55,199.71 L329.70,198.82 L329.85,199.11 L330.00,199.56 L330.15,199.36 L330.30,199.27 L330.45,199.40 L330.60,199.65 L330.75,199.47 L330.90,199.51 L331.05,199.66 L331.20,199.45 L331.35,199.43 L331.50,200.84 L331.65,199.31 L331.80,199.71 L331.95,199.43 L332.10,199.43 L332.25,199.34 L332.40,199.36 L332.55,199.31 L332.70,199.48 L332.85,199.22 L333.00,199.31 L333.15,199.93 L333.30,199.46 L333.45,199.30 L333.60,200.11 L333.75,199.35 L333.90,199.18 L334.05,199.37 L334.20,199.70 L334.35,199.26 L334.50,199.28 L334.65,199.30 L334.80,199.36 L334.95,199.43 L335.10,199.09 L335.25,199.16 L335.40,199.31 L335.55,199.42 L335.70,199.45 L335.85,199.48 L336.00,199.44 L336.15,199.45 L336.30,199.11 L336.45,199.38 L336.60,199.42 L336.75,199.46 L336.90,199.16 L337.05,199.06 L337.20,199.49 L337.35,200.57 L337.50,199.54 L337.65,199.15 L337.80,199.19 L337.95,199.29 L338.10,198.82 L338.25,199.40 L338.40,199.47 L338.55,199.29 L338.70,199.26 L338.85,198.43 L339.00,199.39 L339.15,199.58 L339.30,199.09 L339.45,199.09 L339.60,199.22 L339.75,198.95 L339.90,198.62 L340.05,199.36 L340.20,198.92 L340.35,200.11 L340.50,199.20 L340.65,199.22 L340.80,199.32 L340.95,199.06 L341.10,198.91 L341.25,199.28 L341.40,198.86 L341.55,199.25 L341.70,199.19 L341.85,199.20 L342.00,198.74 L342.15,199.11 L342.30,199.26 L342.45,199.54 L342.60,199.16 L342.75,200.45 L342.90,199.09 L343.05,199.12 L343.20,198.98 L343.35,199.57 L343.50,199.41 L343.65,198.92 L343.80,199.08 L343.95,199.05 L344.10,199.14 L344.25,198.90 L344.40,199.13 L344.55,199.09 L344.70,198.90 L344.85,199.11 L345.00,199.00 L345.15,199.16 L345.30,199.83 L345.45,199.48 L345.60,198.99 L345.75,199.07 L345.90,199.17 L346.05,199.15 L346.20,199.13 L346.35,198.91 L346.50,199.11 L346.65,199.50 L346.80,199.20 L346.95,199.09 L347.10,199.01 L347.25,199.07 L347.40,198.81 L347.55,199.05 L347.70,198.93 L347.85,197.74 L348.00,199.06 L348.15,199.17 L348.30,198.99 L348.45,199.14 L348.60,198.92 L348.75,198.11 L348.90,198.92 L349.05,199.11 L349.20,198.80 L349.35,199.32 L349.50,198.87 L349.65,199.03 L349.80,199.03 L349.95,198.40 L350.10,199.07 L350.25,198.86 L350.40,198.73 L350.55,199.51 L350.70,199.09 L350.85,198.86 L351.00,198.94 L351.15,198.99 L351.30,198.87 L351.45,198.92 L351.60,198.63 L351.75,199.02 L351.90,198.97 L352.05,198.69 L352.20,199.04 L352.35,199.06 L352.50,199.10 L352.65,198.88 L352.80,198.80 L352.95,198.89 L353.10,198.98 L353.25,198.83 L353.40,198.88 L353.55,198.82 L353.70,198.93 L353.85,198.73 L354.00,199.28 L354.15,199.04 L354.30,199.46 L354.45,198.94 L354.60,198.79 L354.75,198.91 L354.90,198.59 L355.05,199.77 L355.20,198.84 L355.35,199.00 L355.50,198.98 L355.65,199.03 L355.80,199.06 L355.95,199.05 L356.10,198.65 L356.25,198.91 L356.40,198.75 L356.55,199.10 L356.70,198.81 L356.85,198.58 L357.00,199.19 L357.15,198.91 L357.30,198.88 L357.45,198.85 L357.60,198.41 L357.75,198.69 L357.90,199.06 L358.05,199.22 L358.20,198.82 L358.35,198.90 L358.50,198.75 L358.65,197.91 L358.80,199.26 L358.95,198.37 L359.10,198.73 L359.25,200.20 L359.40,198.65 L359.55,198.68 L359.70,198.83 L359.85,199.10 L360.00,198.92 L360.15,198.82 L360.30,198.81 L360.45,198.44 L360.60,198.64 L360.75,198.59 L360.90,198.45 L361.05,198.87 L361.20,198.50 L361.35,198.63 L361.50,198.65 L361.65,198.97 L361.80,199.02 L361.95,198.92 L362.10,198.66 L362.25,198.75 L362.40,198.77 L362.55,198.58 L362.70,199.75 L362.85,199.02 L363.00,198.61 L363.15,198.83 L363.30,198.72 L363.45,198.83 L363.60,198.59 L363.75,198.66 L363.90,198.72 L364.05,198.59 L364.20,198.00 L364.35,198.62 L364.50,198.57 L364.65,198.56 L364.80,198.49 L364.95,198.69 L365.10,198.39 L365.25,198.60 L365.40,198.44 L365.55,198.64 L365.70,198.65 L365.85,198.47 L366.00,198.32 L366.15,197.59 L366.30,198.24 L366.45,198.52 L366.60,198.42 L366.75,198.71 L366.90,198.44 L367.05,198.64 L367.20,198.24 L367.35,197.81 L367.50,199.24 L367.65,198.52 L367.80,198.16 L367.95,197.12 L368.10,198.17 L368.25,198.21 L368.40,198.33 L368.55,198.25 L368.70,198.32 L368.85,198.70 L369.00,199.32 L369.15,197.89 L369.30,198.43 L369.45,198.34 L369.60,197.68 L369.75,198.30 L369.90,197.44 L370.05,198.54 L370.20,198.08 L370.35,198.48 L370.50,198.40 L370.65,198.30 L370.80,198.20 L370.95,198.09 L371.10,198.32 L371.25,197.88 L371.40,198.36 L371.55,198.13 L371.70,197.90 L371.85,198.15 L372.00,197.97 L372.15,197.48 L372.30,198.05 L372.45,197.90 L372.60,197.97 L372.75,198.10 L372.90,197.92 L373.05,198.49 L373.20,197.84 L373.35,197.92 L373.50,197.93 L373.65,197.80 L373.80,197.74 L373.95,200.01 L375.2,198.21" stroke="#ff8000" stroke-width="2.0"/>
<path d="M280.40,199.70 V197.59" stroke="#ff8000" stroke-width="1.6"/><path d="M285.10,199.74 V198.43" stroke="#ff8000" stroke-width="1.6"/><path d="M285.20,199.74 V201.84" stroke="#ff8000" stroke-width="1.6"/><path d="M291.00,199.77 V202.18" stroke="#ff8000" stroke-width="1.6"/><path d="M370.25,198.22 V186.51" stroke="#ff8000" stroke-width="1.7"/>
</g>
<path d="M48.45,23.45 H381.75 V229.4 H48.45 Z" fill="none" stroke="#7a7a7a" stroke-width="0.8"/>
<path d="M67.50,229.4 v-2.5 M67.50,23.45 v2.5 M80.50,229.4 v-2.5 M80.50,23.45 v2.5 M93.50,229.4 v-2.5 M93.50,23.45 v2.5 M106.50,229.4 v-2.5 M106.50,23.45 v2.5 M131.50,229.4 v-2.5 M131.50,23.45 v2.5 M144.50,229.4 v-2.5 M144.50,23.45 v2.5 M157.50,229.4 v-2.5 M157.50,23.45 v2.5 M170.50,229.4 v-2.5 M170.50,23.45 v2.5 M195.50,229.4 v-2.5 M195.50,23.45 v2.5 M208.50,229.4 v-2.5 M208.50,23.45 v2.5 M221.50,229.4 v-2.5 M221.50,23.45 v2.5 M233.50,229.4 v-2.5 M233.50,23.45 v2.5 M259.50,229.4 v-2.5 M259.50,23.45 v2.5 M272.50,229.4 v-2.5 M272.50,23.45 v2.5 M285.50,229.4 v-2.5 M285.50,23.45 v2.5 M297.50,229.4 v-2.5 M297.50,23.45 v2.5 M323.50,229.4 v-2.5 M323.50,23.45 v2.5 M336.50,229.4 v-2.5 M336.50,23.45 v2.5 M348.50,229.4 v-2.5 M348.50,23.45 v2.5 M361.50,229.4 v-2.5 M361.50,23.45 v2.5 M48.45,222.50 h2.5 M48.45,216.50 h2.5 M48.45,209.50 h2.5 M48.45,203.50 h2.5 M48.45,190.50 h2.5 M48.45,184.50 h2.5 M48.45,177.50 h2.5 M48.45,171.50 h2.5 M48.45,158.50 h2.5 M48.45,151.50 h2.5 M48.45,145.50 h2.5 M48.45,139.50 h2.5 M48.45,126.50 h2.5 M48.45,119.50 h2.5 M48.45,113.50 h2.5 M48.45,107.50 h2.5 M48.45,94.50 h2.5 M48.45,87.50 h2.5 M48.45,81.50 h2.5 M48.45,74.50 h2.5 M48.45,62.50 h2.5 M48.45,55.50 h2.5 M48.45,49.50 h2.5 M48.45,42.50 h2.5 M48.45,30.50 h2.5 M48.45,23.50 h2.5" fill="none" stroke="#6a6a6a" stroke-width="0.8"/>
<path d="M55.00,229.4 v-3.5 M55.00,23.45 v3.5 M118.90,229.4 v-3.5 M118.90,23.45 v3.5 M182.80,229.4 v-3.5 M182.80,23.45 v3.5 M246.70,229.4 v-3.5 M246.70,23.45 v3.5 M310.60,229.4 v-3.5 M310.60,23.45 v3.5 M374.50,229.4 v-3.5 M374.50,23.45 v3.5 M48.45,229.00 h3.5 M381.75,229.00 h-3.5 M48.45,196.91 h3.5 M48.45,164.83 h3.5 M381.75,164.83 h-3.5 M48.45,132.75 h3.5 M48.45,100.66 h3.5 M381.75,100.66 h-3.5 M48.45,68.57 h3.5 M48.45,36.49 h3.5 M381.75,36.49 h-3.5" fill="none" stroke="#6a6a6a" stroke-width="0.9"/>
<path d="M381.75,216.50 h-2.6 M381.75,203.50 h-2.6 M381.75,190.50 h-2.6 M381.75,177.50 h-2.6 M381.75,151.50 h-2.6 M381.75,139.50 h-2.6 M381.75,126.50 h-2.6 M381.75,113.50 h-2.6 M381.75,87.50 h-2.6 M381.75,74.50 h-2.6 M381.75,62.50 h-2.6 M381.75,49.50 h-2.6 M381.75,23.50 h-2.6" fill="none" stroke="#777" stroke-width="0.8"/>
<g font-size="15.7"><text x="45.4" y="235.80" text-anchor="end">0.0</text><text x="45.4" y="203.72" text-anchor="end">0.5</text><text x="45.4" y="171.63" text-anchor="end">.0</text><path transform="translate(23.58,171.63) scale(0.01570,-0.01570)" d="M359,0 L271,0 L271,505 L101,505 L101,566 C205,570 262,602 291,709 L359,709 Z" fill="#000"/><text x="45.4" y="139.55" text-anchor="end">.5</text><path transform="translate(23.58,139.55) scale(0.01570,-0.01570)" d="M359,0 L271,0 L271,505 L101,505 L101,566 C205,570 262,602 291,709 L359,709 Z" fill="#000"/><text x="45.4" y="107.46" text-anchor="end">2.0</text><text x="45.4" y="75.37" text-anchor="end">2.5</text><text x="45.4" y="43.29" text-anchor="end">3.0</text><text x="55.00" y="248.8" text-anchor="middle">0</text><path transform="translate(114.54,248.80) scale(0.01570,-0.01570)" d="M359,0 L271,0 L271,505 L101,505 L101,566 C205,570 262,602 291,709 L359,709 Z" fill="#000"/><text x="182.80" y="248.8" text-anchor="middle">2</text><text x="246.70" y="248.8" text-anchor="middle">3</text><text x="310.60" y="248.8" text-anchor="middle">4</text><text x="374.50" y="248.8" text-anchor="middle">5</text></g>
<text x="214.8" y="276.0" font-size="15.7" text-anchor="middle">Mt</text>
<text transform="translate(12.4,125.9) rotate(-90)" font-size="15.3" text-anchor="middle">Ratio</text>
<path transform="translate(177.05,16.80) scale(0.01570,-0.01570)" d="M359,0 L271,0 L271,505 L101,505 L101,566 C205,570 262,602 291,709 L359,709 Z" fill="#000"/><text transform="translate(146.48,16.80) scale(1.100,1)" font-size="15.7" font-style="italic">λ</text><text x="154.13" y="16.8" font-size="15.7">=<tspan dx="0.5">0.</tspan><tspan dx="8.63">,</tspan> <tspan font-style="italic" dx="1.1">M</tspan><tspan font-size="11" dy="-7.6">2</tspan><tspan dy="7.6" dx="0.4">/</tspan><tspan font-style="italic" dx="0.7">μ</tspan><tspan font-size="11" dy="-7.6" dx="0.5">2</tspan><tspan dy="7.6" dx="0.4">=0.206</tspan></text>
<g fill="none">
<path d="M277.9,39.9 H315.3" stroke="#00a800" stroke-width="2.05" stroke-dasharray="5.7 2.2"/>
<path d="M277.9,61.4 H315.3" stroke="#ff0000" stroke-width="2.05" stroke-dasharray="2.7 2.25"/>
<path d="M277.9,83.9 H317.3" stroke="#ff8000" stroke-width="2.05"/>
</g>
<text transform="translate(323.15,44.20) scale(1.000,1)" font-size="16.2">|</text><text transform="translate(326.74,44.20) scale(1.056,1)" font-size="16.2">Δ</text><text transform="translate(338.62,46.90) scale(1.000,1)" font-size="11.5" font-style="italic">c</text><text transform="translate(344.00,44.20) scale(1.200,1)" font-size="16.2">/</text><text transform="translate(348.99,44.20) scale(1.056,1)" font-size="16.2">Δ</text><text transform="translate(360.25,44.20) scale(1.000,1)" font-size="16.2">|</text><text transform="translate(323.15,65.80) scale(1.000,1)" font-size="16.2">|</text><text transform="translate(326.74,65.80) scale(1.056,1)" font-size="16.2">Δ</text><text transform="translate(339.29,68.50) scale(1.000,1)" font-size="11.5" font-style="italic">p</text><text transform="translate(344.64,65.80) scale(1.200,1)" font-size="16.2">/</text><text transform="translate(349.63,65.80) scale(1.056,1)" font-size="16.2">Δ</text><text transform="translate(360.89,65.80) scale(1.000,1)" font-size="16.2">|</text><text transform="translate(323.15,88.70) scale(1.000,1)" font-size="16.2">|</text><text transform="translate(326.74,88.70) scale(1.056,1)" font-size="16.2">Δ</text><text transform="translate(338.62,91.40) scale(1.000,1)" font-size="11.5" font-style="italic">c</text><text transform="translate(344.00,88.70) scale(1.200,1)" font-size="16.2">/</text><text transform="translate(348.99,88.70) scale(1.056,1)" font-size="16.2">Δ</text><text transform="translate(361.99,91.40) scale(1.000,1)" font-size="11.5" font-style="italic">p</text><text transform="translate(367.75,88.70) scale(1.000,1)" font-size="16.2">|</text>
</svg>
</body></html>
